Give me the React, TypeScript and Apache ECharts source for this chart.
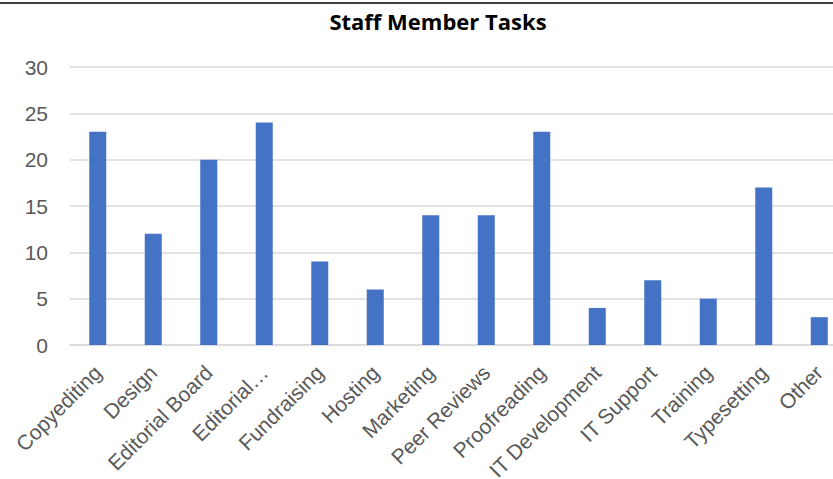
import React, { useEffect, useRef } from "react";
import * as echarts from "echarts";

const categories = [
  "Copyediting",
  "Design",
  "Editorial Board",
  "Editorial…",
  "Fundraising",
  "Hosting",
  "Marketing",
  "Peer Reviews",
  "Proofreading",
  "IT Development",
  "IT Support",
  "Training",
  "Typesetting",
  "Other",
];
const taskCounts = [23, 12, 20, 24, 9, 6, 14, 14, 23, 4, 7, 5, 17, 3];
const titleText = "Staff Member Tasks";

export default function App() {
  const ref = useRef<HTMLDivElement>(null);
  useEffect(() => {
    if (!ref.current) return;
    const chart = echarts.init(ref.current, null, { renderer: "svg" });
    chart.setOption({
      animation: false,
      backgroundColor: "#ffffff",
      title: {
        text: titleText,
        left: 433,
        top: 5,
        textAlign: "center",
        textStyle: {
          fontFamily: "Open Sans",
          fontWeight: 700,
          fontSize: 22,
          color: "#000000",
        },
      },
      graphic: [
        {
          type: "line",
          shape: { x1: 0, y1: 3, x2: 833, y2: 3 },
          style: { stroke: "#404040", lineWidth: 2 },
        },
      ],
      grid: {
        left: 70,
        width: 777,
        top: 67,
        bottom: 134,
        containLabel: false,
        outerBoundsMode: "none",
      },
      xAxis: {
        type: "category",
        data: categories,
        axisLine: { lineStyle: { color: "#d9d9d9", width: 1.5 } },
        axisTick: { show: false },
        axisLabel: {
          interval: 0,
          rotate: 45,
          margin: 24,
          color: "#595959",
          fontFamily: "Liberation Sans",
          fontSize: 21,
        },
      },
      yAxis: {
        type: "value",
        min: 0,
        max: 30,
        interval: 5,
        axisLine: { show: false },
        axisTick: { show: false },
        splitLine: { lineStyle: { color: "#d9d9d9", width: 1.5 } },
        axisLabel: {
          margin: 22,
          color: "#595959",
          fontFamily: "Liberation Sans",
          fontSize: 21,
        },
      },
      series: [
        {
          type: "bar",
          data: taskCounts,
          barWidth: 17,
          itemStyle: { color: "#4472c4" },
        },
      ],
    });
    return () => chart.dispose();
  }, []);
  return (
    <div
      ref={ref}
      style={{ position: "fixed", left: 0, top: 0, width: 833, height: 479 }}
    />
  );
}
